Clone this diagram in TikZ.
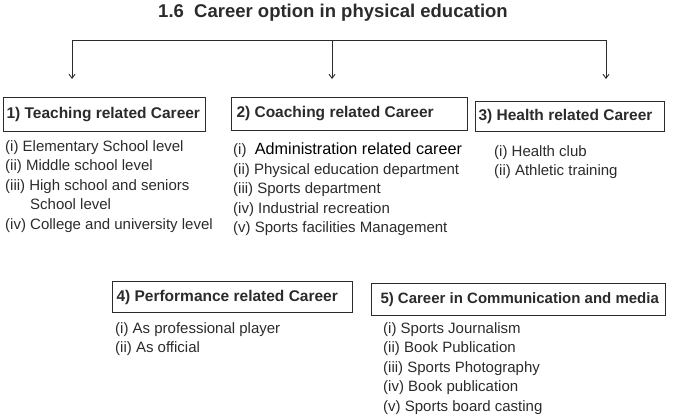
\documentclass[tikz,border=0pt]{standalone}
\usepackage{fontspec}
\setmainfont{Liberation Sans}
\usetikzlibrary{arrows.meta}
\definecolor{ink}{HTML}{2B2B2B}
\tikzset{
  x=1pt, y=-1pt,
  conn/.style={draw=ink, line width=0.9pt},
  arr/.style={conn, -{Straight Barb[length=4pt,width=6pt]}},
  catbox/.style={draw=ink, line width=1pt, inner sep=0pt, anchor=north west, align=left,
     font=\bfseries\fontsize{15.5}{18}\selectfont, text=ink},
  listtxt/.style={inner sep=0pt, anchor=north west, align=left,
     font=\fontsize{15}{19.5}\selectfont, text=ink},
  ttl/.style={inner sep=0pt, font=\bfseries\fontsize{18.5}{20}\selectfont, text=ink}
}
\newcommand\boxlabel[3]{\makebox[#1][l]{\hspace*{#2}#3}}
\begin{document}
\begin{tikzpicture}
\useasboundingbox (0,0) rectangle (673,420);
\node[ttl] (title) at (333,13) {1.6\ \ Career option in physical education};

\coordinate (hl) at (72,40);
\coordinate (hm) at (332,40);
\coordinate (hr) at (606,40);
\coordinate (el) at (72,79);
\coordinate (em) at (332,79);
\coordinate (er) at (606,79);
\draw[conn] (hl) -- (hr);
\draw[arr] (hl) -- (el);
\draw[arr] (hm) -- (em);
\draw[arr] (hr) -- (er);

\node[catbox, minimum width=202pt, minimum height=34pt] (b1) at (3,97) {\boxlabel{202pt}{3pt}{1) Teaching related Career}};
\node[catbox, minimum width=236pt, minimum height=33pt] (b2) at (231,97) {\boxlabel{236pt}{5pt}{2) Coaching related Career}};
\node[catbox, minimum width=189pt, minimum height=30pt] (b3) at (475,101) {\boxlabel{189pt}{3pt}{3) Health related Career}};
\node[catbox, minimum width=240pt, minimum height=31pt] (b4) at (112,281) {\boxlabel{240pt}{4pt}{4) Performance related Career}};
\node[catbox, minimum width=294pt, minimum height=32pt, font=\bfseries\fontsize{15}{18}\selectfont] (b5) at (371,283) {\boxlabel{294pt}{9pt}{5) Career in Communication and media}};

\node[listtxt] (l1) at (5,140) {(i) Elementary School level\\(ii) Middle school level\\(iii) High school and seniors\\\hspace*{25pt}School level\\(iv) College and university level};
\node[listtxt] (l2) at (233,143) {(i)\ \ {\fontsize{16.2}{19.5}\selectfont\color{black}Administration related career}\\(ii) Physical education department\\(iii) Sports department\\(iv) Industrial recreation\\(v) Sports facilities Management};
\node[listtxt] (l3) at (494,145) {(i) Health club\\(ii) Athletic training};
\node[listtxt] (l4) at (115,322) {(i) As professional player\\(ii) As official};
\node[listtxt] (l5) at (383,322) {(i) Sports Journalism\\(ii) Book Publication\\(iii) Sports Photography\\(iv) Book publication\\(v) Sports board casting};
\end{tikzpicture}
\end{document}
